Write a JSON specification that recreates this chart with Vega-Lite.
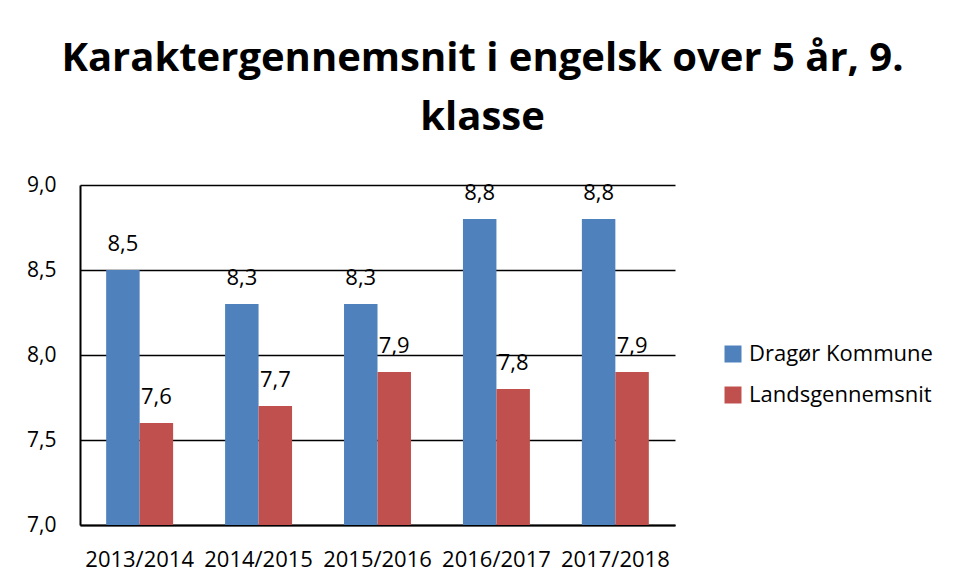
{
  "$schema": "https://vega.github.io/schema/vega-lite/v6.json",
  "autosize": "none",
  "width": 595,
  "height": 340,
  "padding": {"left": 80, "top": 185, "right": 282, "bottom": 55},
  "background": "white",
  "config": {
    "locale": {"number": {"decimal": ",", "thousands": ".", "grouping": [3], "currency": ["", " kr."]}},
    "view": {"stroke": null},
    "font": "Open Sans"
  },
  "title": {
    "text": ["Karaktergennemsnit i engelsk over 5 år, 9.", "klasse"],
    "font": "Open Sans",
    "fontSize": 40,
    "fontWeight": "bold",
    "color": "black",
    "lineHeight": 59,
    "anchor": "middle",
    "frame": "group",
    "dx": 105,
    "offset": 36
  },
  "data": {
    "values": [
      {"year": "2013/2014", "series": "Dragør Kommune", "value": 8.5},
      {"year": "2013/2014", "series": "Landsgennemsnit", "value": 7.6},
      {"year": "2014/2015", "series": "Dragør Kommune", "value": 8.3},
      {"year": "2014/2015", "series": "Landsgennemsnit", "value": 7.7},
      {"year": "2015/2016", "series": "Dragør Kommune", "value": 8.3},
      {"year": "2015/2016", "series": "Landsgennemsnit", "value": 7.9},
      {"year": "2016/2017", "series": "Dragør Kommune", "value": 8.8},
      {"year": "2016/2017", "series": "Landsgennemsnit", "value": 7.8},
      {"year": "2017/2018", "series": "Dragør Kommune", "value": 8.8},
      {"year": "2017/2018", "series": "Landsgennemsnit", "value": 7.9}
    ]
  },
  "encoding": {
    "x": {
      "field": "year", "type": "nominal", "title": null,
      "scale": {"paddingInner": 0.437, "paddingOuter": 0.22},
      "axis": {
        "labelAngle": 0, "labelFontSize": 22, "labelColor": "black",
        "labelPadding": 24, "ticks": false, "domainColor": "black",
        "domainWidth": 2, "labelFont": "Open Sans", "labelLimit": 0
      }
    },
    "xOffset": {"field": "series", "type": "nominal", "sort": ["Dragør Kommune", "Landsgennemsnit"], "scale": {"paddingInner": 0, "paddingOuter": 0}},
    "y": {
      "field": "value", "type": "quantitative", "title": null,
      "scale": {"domain": [7, 9], "zero": false, "nice": false},
      "axis": {
        "values": [7, 7.5, 8, 8.5, 9], "format": ".1f",
        "labelFontSize": 21, "labelColor": "black", "labelPadding": 24,
        "ticks": false, "domainColor": "black", "domainWidth": 2,
        "gridColor": "black", "gridWidth": 1.5, "gridOpacity": 1,
        "labelFont": "Open Sans"
      }
    }
  },
  "layer": [
    {
      "mark": {"type": "bar"},
      "encoding": {
        "y2": {"datum": 7},
        "color": {
          "field": "series", "type": "nominal", "sort": ["Dragør Kommune", "Landsgennemsnit"],
          "scale": {"range": ["#4F81BD", "#C0504D"]},
          "legend": {
            "title": null, "orient": "none", "legendX": 642, "legendY": 158,
            "symbolType": "square", "symbolSize": 289, "symbolStrokeWidth": 0,
            "symbolOpacity": 1, "labelFontSize": 22, "labelColor": "black",
            "labelFont": "Open Sans", "rowPadding": 19, "labelOffset": 5,
            "labelLimit": 0
          }
        }
      }
    },
    {
      "mark": {"type": "text", "baseline": "bottom", "dy": -14, "fontSize": 22, "color": "black", "font": "Open Sans"},
      "encoding": {
        "text": {"field": "value", "type": "quantitative", "format": ".1f"}
      }
    }
  ]
}
